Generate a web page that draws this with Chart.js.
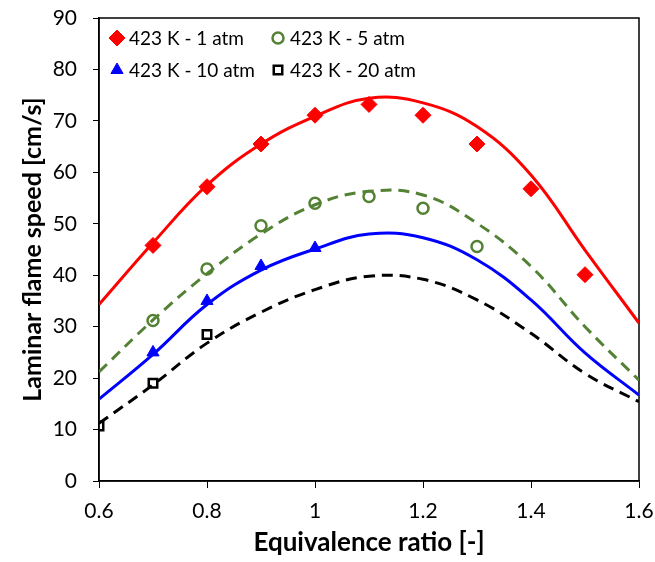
<!DOCTYPE html>
<html>
<head>
<meta charset="utf-8">
<script src="https://cdn.jsdelivr.net/npm/chart.js@4"></script>
<style>
    html, body { margin: 0; padding: 0; background: #fff; }
    .chart-wrap { position: relative; width: 655px; height: 562px; }
</style>
</head>
<body>
<div class="chart-wrap">
    <canvas id="flameChart"></canvas>
</div>
<script>
// Measured points (equivalence ratio vs laminar flame speed)
const phi1atm = [0.7, 0.8, 0.9, 1.0, 1.1, 1.2, 1.3, 1.4, 1.5];
const su1atm = [45.8, 57.2, 65.5, 71.1, 73.2, 71.1, 65.5, 56.8, 40.1];
const phi5atm = [0.7, 0.8, 0.9, 1.0, 1.1, 1.2, 1.3];
const su5atm = [31.2, 41.2, 49.6, 54.0, 55.3, 53.0, 45.6];
const phi10atm = [0.7, 0.8, 0.9, 1.0];
const su10atm = [25.0, 35.0, 41.8, 45.3];
const phi20atm = [0.6, 0.7, 0.8];
const su20atm = [10.7, 19.0, 28.5];

// Model curves
const phiModel = [0.6, 0.7, 0.8, 0.9, 1.0, 1.1, 1.2, 1.3, 1.4, 1.5, 1.6];
const model1atm = [34.3, 46.3, 57.5, 65.5, 70.9, 74.4, 73.5, 68.9, 59.5, 44.9, 30.7];
const model5atm = [21.2, 31.3, 40.3, 48.0, 53.7, 56.3, 55.6, 50.1, 41.7, 30.0, 19.6];
const model10atm = [15.9, 24.6, 34.3, 41.0, 45.1, 48.0, 47.3, 43.0, 35.2, 24.9, 16.7];
const model20atm = [11.2, 18.7, 26.8, 32.8, 37.2, 39.8, 39.2, 35.2, 28.7, 20.9, 15.4];

const xTicks = [0.6, 0.8, 1.0, 1.2, 1.4, 1.6];
const yTicks = [0, 10, 20, 30, 40, 50, 60, 70, 80, 90];

const FONT = 'Lato, "Open Sans", sans-serif';

const toXY = (xs, ys) => xs.map((x, i) => ({ x, y: ys[i] }));

function lineSet(data, color, dash) {
    return {
        type: 'line',
        data: toXY(phiModel, data),
        borderColor: color,
        borderWidth: 3,
        borderDash: dash,
        pointRadius: 0,
        tension: 0.4,
        fill: false,
        legendSkip: true,
    };
}

function markerSet(label, xs, ys, style, color, radius, filled) {
    return {
        type: 'scatter',
        label,
        data: toXY(xs, ys),
        pointStyle: style,
        pointRadius: radius,
        pointBorderWidth: filled ? 1 : 2.5,
        pointBorderColor: color,
        pointBackgroundColor: filled ? color : 'rgba(0,0,0,0)',
    };
}

// legend drawn inside the plot, two columns
const insideLegend = {
    id: 'insideLegend',
    afterDatasetsDraw(chart) {
        const ctx = chart.ctx;
        const spots = [[117, 38], [278, 38], [117, 70], [278, 70]];
        const items = chart.data.datasets.filter(d => !d.legendSkip);
        ctx.save();
        ctx.font = '19px ' + FONT;
        ctx.textBaseline = 'middle';
        items.forEach((d, i) => {
            const [mx, my] = spots[i];
            ctx.strokeStyle = d.pointBorderColor;
            ctx.fillStyle = d.pointBackgroundColor;
            ctx.lineWidth = d.pointBorderWidth;
            Chart.helpers.drawPoint(ctx, {
                pointStyle: d.pointStyle,
                radius: d.pointRadius,
                borderWidth: d.pointBorderWidth,
            }, mx, my);
            ctx.fillStyle = '#000';
            ctx.fillText(d.label, mx + 12, my + 1);
        });
        ctx.restore();
    }
};

// box around the plot area
const plotBox = {
    id: 'plotBox',
    beforeDatasetsDraw(chart) {
        const { ctx, chartArea: a } = chart;
        ctx.save();
        ctx.strokeStyle = '#000';
        ctx.lineWidth = 1.5;
        ctx.strokeRect(a.left, a.top, a.right - a.left, a.bottom - a.top);
        ctx.restore();
    }
};

function renderChart() {
    const ctx = document.getElementById('flameChart').getContext('2d');

    new Chart(ctx, {
        data: {
            datasets: [
                lineSet(model1atm, '#ff0000', []),
                lineSet(model5atm, '#548235', [11, 7]),
                lineSet(model10atm, '#0000ff', []),
                lineSet(model20atm, '#000000', [11, 7]),
                markerSet('423 K - 1 atm', phi1atm, su1atm, 'rectRot', '#ff0000', 8, true),
                markerSet('423 K - 5 atm', phi5atm, su5atm, 'circle', '#548235', 5.5, false),
                markerSet('423 K - 10 atm', phi10atm, su10atm, 'triangle', '#0000ff', 7, true),
                markerSet('423 K - 20 atm', phi20atm, su20atm, 'rect', '#000000', 6, false),
            ]
        },
        options: {
            responsive: false,
            animation: false,
            layout: { padding: { left: 14, right: 16, top: 18, bottom: 0 } },
            plugins: {
                legend: { display: false },
                tooltip: { enabled: false },
            },
            scales: {
                x: {
                    type: 'linear',
                    min: 0.6,
                    max: 1.6,
                    afterBuildTicks: s => { s.ticks = xTicks.map(v => ({ value: v })); },
                    afterFit: s => { s.height = 81; s.paddingRight = 0; s.paddingLeft = 0; },
                    grid: { drawOnChartArea: false, drawTicks: true, tickLength: 7, color: '#000' },
                    border: { display: true, color: '#000', width: 1.5 },
                    ticks: {
                        color: '#000',
                        font: { family: FONT, size: 21 },
                        padding: 11,
                        maxRotation: 0,
                        callback: v => String(v),
                    },
                    title: {
                        display: true,
                        text: 'Equivalence ratio [-]',
                        color: '#000',
                        font: { family: FONT, size: 26, weight: 'bold' },
                        padding: { top: 0 },
                    }
                },
                y: {
                    type: 'linear',
                    min: 0,
                    max: 90,
                    afterBuildTicks: s => { s.ticks = yTicks.map(v => ({ value: v })); },
                    afterFit: s => { s.width = 85; s.paddingTop = 0; s.paddingBottom = 0; },
                    grid: { drawOnChartArea: false, drawTicks: true, tickLength: 6, color: '#000' },
                    border: { display: true, color: '#000', width: 1.5 },
                    ticks: {
                        color: '#000',
                        font: { family: FONT, size: 21 },
                        padding: 16,
                    },
                    title: {
                        display: true,
                        text: 'Laminar flame speed [cm/s]',
                        color: '#000',
                        font: { family: FONT, size: 25, weight: 'bold' },
                        padding: { bottom: 2 },
                    }
                }
            }
        },
        plugins: [plotBox, insideLegend]
    });
}

document.getElementById('flameChart').width = 655;
document.getElementById('flameChart').height = 562;
renderChart();
</script>
</body>
</html>
